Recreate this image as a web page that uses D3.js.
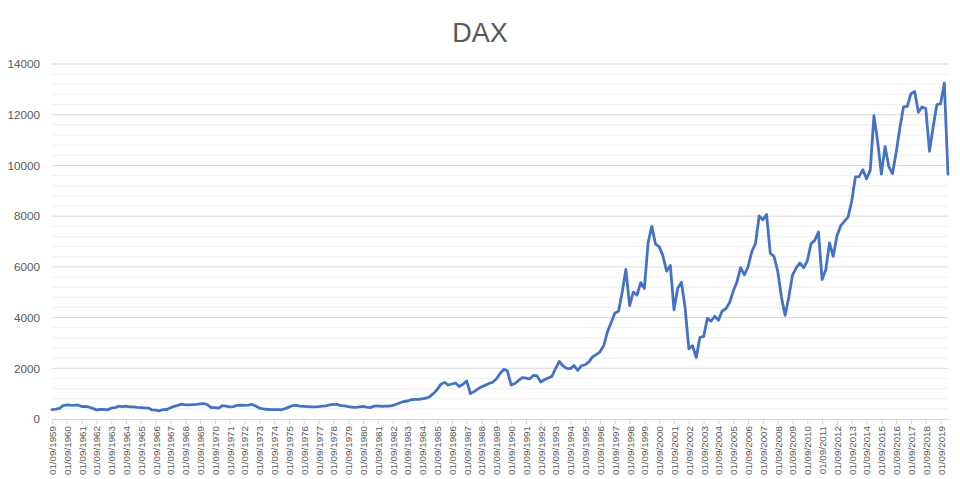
<!DOCTYPE html>
<html><head><meta charset="utf-8">
<script src="https://cdn.jsdelivr.net/npm/d3@7"></script>
<style>
body{margin:0;background:#fff}
text{font-family:"Liberation Sans",Arial,sans-serif}
</style>
</head><body>
<svg id="c" width="960" height="479"></svg>
<script>
const title = "DAX";
const startYear = 1959;
const quarterMonths = ["09", "12", "03", "06"];
const values = [
 370,390,420,530,555,545,540,555,490,495,
 470,420,360,375,380,360,430,447,505,490,
 510,480,480,460,450,440,430,360,350,325,
 370,375,440,500,540,585,560,560,570,580,
 595,610,560,450,450,430,530,510,
 480,490,535,545,540,545,575,510,430,400,
 385,375,370,370,365,410,470,530,540,510,
 500,490,480,480,490,505,515,560,580,575,
 530,515,490,470,460,480,495,465,450,510,
 520,495,505,510,530,580,640,690,710,760,
 770,775,790,820,880,1000,
 1150,1366,1445,1340,1380,1420,1280,1370,1500,1000,
 1080,1180,1270,1328,1400,1450,1580,1790,
 1960,1900,1340,1398,1520,1630,1610,1580,1720,1700,
 1460,1545,1620,1680,1990,2267,2100,2000,1990,2107,
 1920,2100,2140,2254,2450,2540,2650,2889,3430,3800,
 4168,4250,5000,5897,4474,5002,4884,5378,5150,6958,
 7599,6898,6798,6434,5830,6058,4308,5160,5397,4383,
 2769,2893,2424,3221,3257,3965,3856,4053,3893,4256,
 4349,4586,5044,5408,5970,5683,6004,6597,6917,8007,
 7862,8067,6535,6418,5831,4810,4085,4809,5675,5957,
 6154,5966,6229,6914,7041,7376,5502,5898,6947,6416,
 7216,7612,7795,7959,8594,9552,9556,9833,9474,9806,
 11966,10945,9660,10743,9965,9680,10511,11481,12313,12325,
 12829,12918,12097,12306,12247,10559,11526,12399,12428,13249,
 9650
];
const yTicks = [0, 2000, 4000, 6000, 8000, 10000, 12000, 14000];
const yMinorStep = 400;

// category labels (quarterly dates)
const categories = [];
for (let yr = startYear; categories.length < values.length; yr++) {
  for (const m of quarterMonths) {
    const y2 = (m === "03" || m === "06") ? yr + 1 : yr;
    categories.push(`01/${m}/${y2}`);
  }
}
categories.length = values.length;
const xTickLabels = categories.filter(c => c.startsWith("01/09/"));

const svg = d3.select("#c");
const x = d3.scalePoint().domain(categories).range([52, 948]);
const y = d3.scaleLinear().domain([0, 14000]).range([419, 64]);

// minor gridlines
svg.append("g").selectAll("line")
  .data(d3.range(yMinorStep, 14000 + 1, yMinorStep).filter(v => v % 2000 !== 0))
  .join("line")
  .attr("x1", 52).attr("x2", 948)
  .attr("y1", d => y(d)).attr("y2", d => y(d))
  .attr("stroke", "#f0f0f0").attr("stroke-width", 1);

// major gridlines
svg.append("g").selectAll("line")
  .data(yTicks.filter(v => v > 0))
  .join("line")
  .attr("x1", 52).attr("x2", 948)
  .attr("y1", d => y(d)).attr("y2", d => y(d))
  .attr("stroke", "#d9d9d9").attr("stroke-width", 1);

// y axis labels
const yAxis = svg.append("g").attr("transform", "translate(52,0)")
  .call(d3.axisLeft(y).tickValues(yTicks).tickSize(0).tickPadding(12).tickFormat(d3.format("d")));
yAxis.select(".domain").remove();
yAxis.selectAll("text").attr("fill", "#595959").style("font-size", "11.7px")
  .style("font-family", "'Liberation Sans', Arial, sans-serif");

// x axis
const xAxis = svg.append("g").attr("transform", "translate(0,419)")
  .call(d3.axisBottom(x).tickValues(xTickLabels).tickSize(5).tickSizeOuter(0));
xAxis.select(".domain").attr("stroke", "#d9d9d9");
xAxis.selectAll(".tick line").attr("stroke", "#d9d9d9");
xAxis.selectAll("text")
  .attr("transform", "rotate(-90)")
  .attr("x", -7).attr("y", 0).attr("dy", "0.35em")
  .style("text-anchor", "end")
  .attr("fill", "#595959")
  .style("font-size", "9.8px")
  .style("font-family", "'Liberation Sans', Arial, sans-serif");

// line
const line = d3.line().x((d, i) => x(categories[i])).y(d => y(d));
svg.append("path").datum(values)
  .attr("d", line)
  .attr("fill", "none")
  .attr("stroke", "#4472C4")
  .attr("stroke-width", 2.8)
  .attr("stroke-linejoin", "round")
  .attr("stroke-linecap", "round");

// title
svg.append("text").attr("x", 480).attr("y", 42)
  .attr("text-anchor", "middle")
  .attr("fill", "#595959")
  .style("font-size", "27px")
  .text(title);
</script>
</body></html>
